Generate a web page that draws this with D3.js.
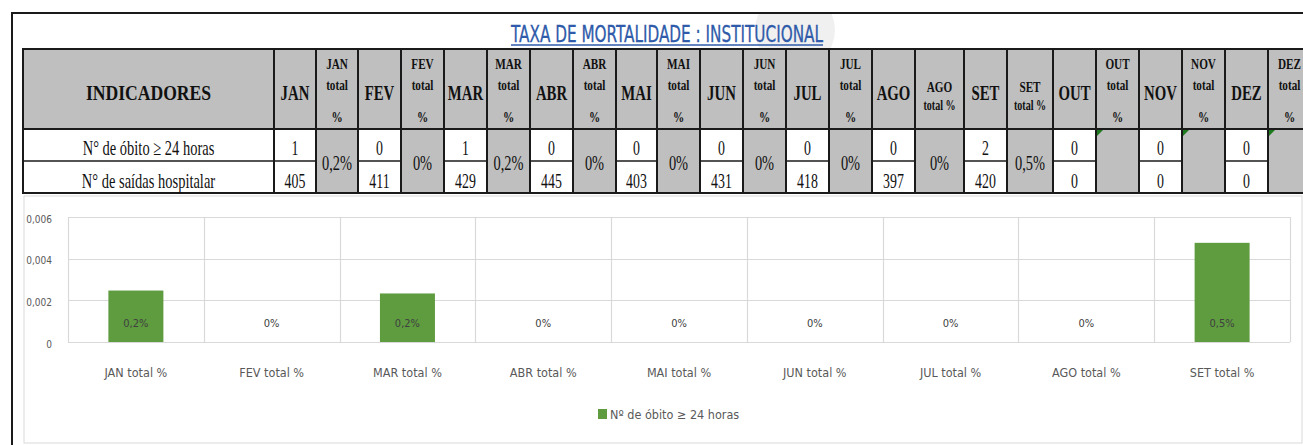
<!DOCTYPE html>
<html>
<head>
<meta charset="utf-8">
<script src="https://cdn.jsdelivr.net/npm/d3@7"></script>
<style>
  html, body { margin: 0; padding: 0; background: #ffffff; }
  svg { display: block; }
</style>
</head>
<body>
<script>
// ---------------- DATA ----------------
const titleText = "TAXA DE MORTALIDADE : INSTITUCIONAL";
const months = ["JAN","FEV","MAR","ABR","MAI","JUN","JUL","AGO","SET","OUT","NOV","DEZ"];
const rowLabels = ["N° de óbito ≥ 24 horas", "N° de saídas hospitalar"];
const obitos = [1, 0, 1, 0, 0, 0, 0, 0, 2, 0, 0, 0];
const saidas = [405, 411, 429, 445, 403, 431, 418, 397, 420, 0, 0, 0];
const pctLabels = ["0,2%","0%","0,2%","0%","0%","0%","0%","0%","0,5%","","",""];

const chartCategories = ["JAN total %","FEV total %","MAR total %","ABR total %","MAI total %","JUN total %","JUL total %","AGO total %","SET total %"];
const chartValues = [0.00247, 0, 0.00233, 0, 0, 0, 0, 0, 0.00476];
const chartLabels = ["0,2%","0%","0,2%","0%","0%","0%","0%","0%","0,5%"];
const yTicks = [0, 0.002, 0.004, 0.006];
const yTickLabels = ["0", "0,002", "0,004", "0,006"];
const legendLabel = "Nº de óbito ≥ 24 horas";

// ---------------- LAYOUT ----------------
const W = 1303, H = 445;
const serif = "'Liberation Serif', 'Times New Roman', serif";
const narrow = "'Liberation Sans Narrow', 'Arial Narrow', 'DejaVu Sans Condensed', sans-serif";

const svg = d3.select("body").append("svg").attr("width", W).attr("height", H);

// watermark shape behind title
svg.append("clipPath").attr("id", "wm").append("rect").attr("x", 12).attr("y", 14).attr("width", 1290).attr("height", 34);
svg.append("circle").attr("cx", 795).attr("cy", 30).attr("r", 40)
  .attr("fill", "#f0f0f0").attr("clip-path", "url(#wm)");

// outer black frame (top + left)
svg.append("path").attr("d", "M12,445 L12,13 L1303,13")
  .attr("fill", "none").attr("stroke", "#1a1a1a").attr("stroke-width", 2);

// title
const titleW = 312, titleX = 667;
svg.append("text").attr("x", titleX).attr("y", 42).attr("text-anchor", "middle")
  .attr("font-family", narrow).attr("font-size", 23).attr("fill", "#2F5BAA")
  .attr("stroke", "#2F5BAA").attr("stroke-width", 0.3)
  .attr("textLength", titleW).attr("lengthAdjust", "spacingAndGlyphs")
  .text(titleText);
svg.append("line").attr("x1", titleX - titleW/2).attr("x2", titleX + titleW/2)
  .attr("y1", 45).attr("y2", 45).attr("stroke", "#2F5BAA").attr("stroke-width", 1.5);

// ---------------- TABLE ----------------
const tblLeft = 23, firstColRight = 274;
const yHead = 49, yRow1 = 129, yRow2 = 161, yBot = 193;
const colWidths = [];
months.forEach((m, i) => {
  colWidths.push(m === "MAI" ? 41 : 43);
  colWidths.push(m === "AGO" ? 49 : (m === "SET" ? 46 : 43));
});
colWidths[0] = 42; colWidths[1] = 42;
const colEdges = [firstColRight];
colWidths.forEach(w => colEdges.push(colEdges[colEdges.length - 1] + w));

const tbl = svg.append("g");
const gray = "#BFBFBF";

function ctext(parent, x, y, str, size, sx, weight) {
  parent.append("text")
    .attr("transform", `translate(${x},${y}) scale(${sx},1)`)
    .attr("text-anchor", "middle")
    .attr("font-family", serif).attr("font-size", size)
    .attr("font-weight", weight || "normal").attr("fill", "#111")
    .text(str);
}

tbl.append("rect").attr("x", tblLeft).attr("y", yHead).attr("width", colEdges[colEdges.length-1] - tblLeft).attr("height", yRow1 - yHead).attr("fill", gray);
tbl.append("rect").attr("x", tblLeft).attr("y", yRow1).attr("width", firstColRight - tblLeft).attr("height", yBot - yRow1).attr("fill", "#fff");

months.forEach((m, i) => {
  const x0 = colEdges[2*i], x1 = colEdges[2*i+1], x2 = colEdges[2*i+2];
  tbl.append("rect").attr("x", x0).attr("y", yRow1).attr("width", x1 - x0).attr("height", yBot - yRow1).attr("fill", "#fff");
  tbl.append("rect").attr("x", x1).attr("y", yRow1).attr("width", x2 - x1).attr("height", yBot - yRow1).attr("fill", gray);
});

const gl = tbl.append("g").attr("stroke", "#1a1a1a").attr("fill", "none");
gl.append("rect").attr("x", tblLeft).attr("y", yHead).attr("width", colEdges[colEdges.length-1] - tblLeft).attr("height", yBot - yHead).attr("stroke-width", 2);
gl.append("line").attr("x1", tblLeft).attr("x2", colEdges[colEdges.length-1]).attr("y1", yRow1).attr("y2", yRow1).attr("stroke-width", 2);
colEdges.forEach(x => gl.append("line").attr("x1", x).attr("x2", x).attr("y1", yHead).attr("y2", yBot).attr("stroke-width", 2));
gl.append("line").attr("x1", tblLeft).attr("x2", firstColRight).attr("y1", yRow2).attr("y2", yRow2).attr("stroke-width", 1.5);
months.forEach((m, i) => {
  gl.append("line").attr("x1", colEdges[2*i]).attr("x2", colEdges[2*i+1]).attr("y1", yRow2).attr("y2", yRow2).attr("stroke-width", 1.5);
});

ctext(tbl, (tblLeft + firstColRight)/2, 100, "INDICADORES", 22, 0.8, "bold");
months.forEach((m, i) => {
  const x0 = colEdges[2*i], x1 = colEdges[2*i+1], x2 = colEdges[2*i+2];
  const cm = (x0 + x1)/2, ct = (x1 + x2)/2;
  ctext(tbl, cm, 100, m, 20, 0.74, "bold");
  if (m === "AGO" || m === "SET") {
    ctext(tbl, ct, 92, m, 14, 0.8, "bold");
    ctext(tbl, ct, 110, "total %", 14, 0.72, "bold");
  } else {
    ctext(tbl, ct, 69, m, 14, 0.8, "bold");
    ctext(tbl, ct, 90, "total", 14, 0.8, "bold");
    ctext(tbl, ct, 122, "%", 14, 0.8, "bold");
  }
  ctext(tbl, cm, 155, String(obitos[i]), 21, 0.66);
  ctext(tbl, cm, 188, String(saidas[i]), 21, 0.66);
  if (pctLabels[i]) ctext(tbl, ct, 170, pctLabels[i], 20, 0.72);
  else {
    tbl.append("path").attr("d", `M${x1+1},${yRow1+1} l6,0 l-6,6 z`).attr("fill", "#1f7a1f");
  }
});
ctext(tbl, (tblLeft + firstColRight)/2, 155, rowLabels[0], 21, 0.69);
ctext(tbl, (tblLeft + firstColRight)/2, 188, rowLabels[1], 21, 0.69);

// ---------------- CHART ----------------
svg.append("rect").attr("x", 24).attr("y", 196).attr("width", 1278).attr("height", 247)
  .attr("fill", "#fff").attr("stroke", "#d9d9d9").attr("stroke-width", 1);

const plot = { left: 68, right: 1290, top: 217, bottom: 342 };
const x = d3.scaleBand().domain(chartCategories).range([plot.left, plot.right]).paddingInner(0).paddingOuter(0);
const y = d3.scaleLinear().domain([0, 0.006]).range([plot.bottom, plot.top]);
const chart = svg.append("g");

chart.append("g").selectAll("line").data(yTicks).join("line")
  .attr("x1", plot.left).attr("x2", plot.right)
  .attr("y1", d => Math.round(y(d)) + 0.5).attr("y2", d => Math.round(y(d)) + 0.5)
  .attr("stroke", "#d9d9d9").attr("stroke-width", 1.2);
const vEdges = chartCategories.map(c => x(c)).concat([plot.right]);
chart.append("g").selectAll("line").data(vEdges).join("line")
  .attr("x1", d => Math.round(d) + 0.5).attr("x2", d => Math.round(d) + 0.5)
  .attr("y1", plot.top).attr("y2", plot.bottom)
  .attr("stroke", "#d9d9d9").attr("stroke-width", 1.2);

const yAxis = d3.axisLeft(y).tickValues(yTicks).tickFormat((d, i) => yTickLabels[i]).tickSize(0).tickPadding(0);
const yg = chart.append("g").attr("transform", `translate(${plot.left - 16},2)`).call(yAxis);
yg.select(".domain").remove();
yg.selectAll("text").attr("font-family", narrow).attr("font-size", 10).attr("fill", "#595959");

const barW = 55;
chart.append("g").selectAll("rect").data(chartValues).join("rect")
  .attr("x", (d, i) => x(chartCategories[i]) + x.bandwidth()/2 - barW/2)
  .attr("width", barW)
  .attr("y", d => y(d))
  .attr("height", d => y(0) - y(d))
  .attr("fill", "#5E9C3F");

chart.append("g").selectAll("text").data(chartLabels).join("text")
  .attr("x", (d, i) => x(chartCategories[i]) + x.bandwidth()/2)
  .attr("y", y(0) - 15)
  .attr("text-anchor", "middle")
  .attr("font-family", narrow).attr("font-size", 11).attr("fill", "#404040")
  .text(d => d);

const xAxis = d3.axisBottom(x).tickSize(0).tickPadding(0);
const xg = chart.append("g").attr("transform", `translate(0,${plot.bottom + 26})`).call(xAxis);
xg.select(".domain").remove();
xg.selectAll("text").attr("font-family", narrow).attr("font-size", 12.5).attr("fill", "#595959");

const lg = svg.append("g");
lg.append("rect").attr("x", 598).attr("y", 409).attr("width", 9).attr("height", 10).attr("fill", "#5E9C3F");
lg.append("text").attr("x", 610).attr("y", 418.5).attr("font-family", narrow).attr("font-size", 12.5).attr("fill", "#595959")
  .text(legendLabel);
</script>
</body>
</html>
